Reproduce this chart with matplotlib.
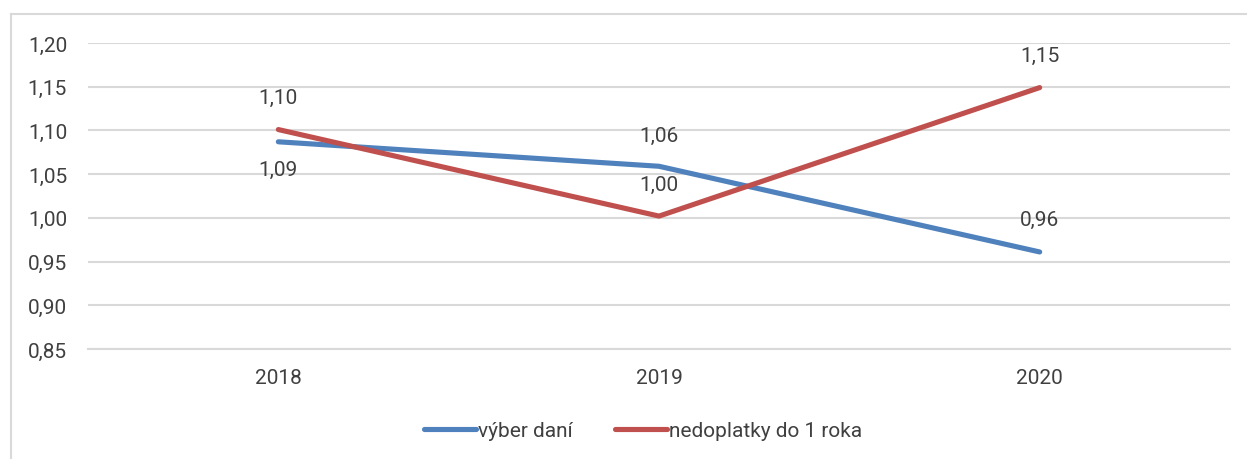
import matplotlib
matplotlib.use('Agg')
import matplotlib.pyplot as plt
from matplotlib.lines import Line2D

years = ['2018', '2019', '2020']
vyber_dani = [1.087, 1.059, 0.961]
nedoplatky = [1.101, 1.002, 1.149]
vyber_lbl = ['1,09', '1,06', '0,96']
nedopl_lbl = ['1,10', '1,00', '1,15']
yticks = [0.85, 0.90, 0.95, 1.00, 1.05, 1.10, 1.15, 1.20]

plt.rcParams['font.family'] = ['Roboto', 'Liberation Sans', 'DejaVu Sans']
txt = '#404040'
grid = '#D9D9D9'
blue = '#4F81BD'
red = '#C0504D'
fs = 15

W, H = 1247, 460
fig = plt.figure(figsize=(W / 100, H / 100), dpi=100)
fig.patch.set_facecolor('white')
ax = fig.add_axes([88 / W, 1 - 350 / H, (1230 - 88) / W, (350 - 44) / H])

x = [0, 1, 2]
ax.plot(x, vyber_dani, color=blue, lw=3.7, solid_capstyle='round', label='výber daní', zorder=3)
ax.plot(x, nedoplatky, color=red, lw=3.7, solid_capstyle='round', label='nedoplatky do 1 roka', zorder=3)

# data labels (blue: first one below, others above)
offs_b = [-28, 31, 33]
for i in x:
    ax.annotate(vyber_lbl[i], (i, vyber_dani[i]), xytext=(0, offs_b[i]), textcoords='offset pixels',
                ha='center', va='center', fontsize=fs, color=txt)
    ax.annotate(nedopl_lbl[i], (i, nedoplatky[i]), xytext=(0, 32), textcoords='offset pixels',
                ha='center', va='center', fontsize=fs, color=txt)

ax.set_xlim(-0.5, 2.5)
ax.set_ylim(0.85, 1.20)
ax.set_xticks(x)
ax.set_xticklabels(years)
ax.set_yticks(yticks)
ax.set_yticklabels([('%.2f' % v).replace('.', ',') for v in yticks])
ax.tick_params(axis='both', length=0, colors=txt, labelsize=fs)
ax.tick_params(axis='x', pad=14)
ax.tick_params(axis='y', pad=15)
ax.grid(axis='y', color=grid, lw=1.5)
ax.set_axisbelow(True)
for s in ['top', 'right', 'left']:
    ax.spines[s].set_visible(False)
ax.spines['bottom'].set_color(grid)
ax.spines['bottom'].set_linewidth(1.5)

leg = fig.legend(loc='center', bbox_to_anchor=(643 / W, 1 - 432 / H), ncol=2, frameon=False,
                 fontsize=fs, handlelength=2.5, handletextpad=0.1, columnspacing=2.0)
for t in leg.get_texts():
    t.set_color(txt)

# chart frame (left and top edge visible in the crop)
fig.add_artist(Line2D([11 / W, 11 / W], [0, 1 - 15 / H], color=grid, lw=1.5))
fig.add_artist(Line2D([11 / W, 1], [1 - 15 / H, 1 - 15 / H], color=grid, lw=1.5))

fig.savefig('out.png', dpi=100)
